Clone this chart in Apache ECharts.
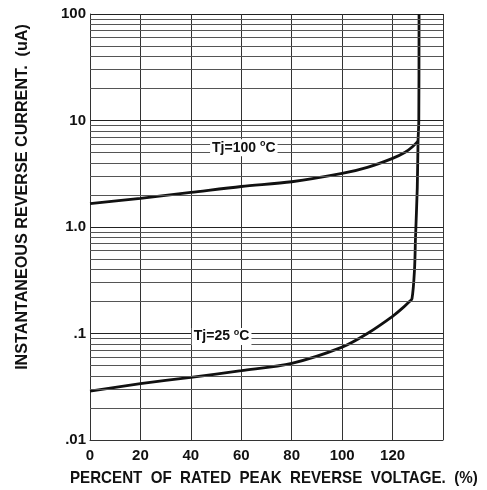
<!DOCTYPE html>
<html>
<head>
<meta charset="utf-8">
<script src="https://cdn.jsdelivr.net/npm/echarts@6/dist/echarts.min.js"></script>
<style>html,body{margin:0;padding:0;background:#fff}#c{width:487px;height:490px}</style>
</head>
<body>
<div id="c"></div>
<script>
// ---- data ----
var xTicks = [0, 20, 40, 60, 80, 100, 120];
var yTickValues = [0.01, 0.1, 1, 10, 100];
var yTickLabels = ['.01', '.1', '1.0', '10', '100'];
var tj100 = [[0,1.66],[20,1.86],[40,2.11],[60,2.40],[80,2.66],[100,3.18],[110,3.63],[120,4.41],[125,5.03],[128,5.7],[130.1,6.4]];
var tj25 = [[0,0.0288],[20,0.0338],[40,0.0388],[60,0.0448],[80,0.0525],[100,0.0745],[110,0.100],[120,0.145],[123.8,0.172],[126.5,0.198],[127.7,0.212],[128.7,0.398],[129.1,0.8],[129.8,2.35],[130.1,6.4],[130.4,10],[130.5,100]];
var minorGrid = [0.02,0.03,0.04,0.05,0.06,0.07,0.08,0.09,0.2,0.3,0.4,0.5,0.6,0.7,0.8,0.9,2,3,4,5,6,7,8,9,20,30,40,50,60,70,80,90];
var labels100 = 'Tj=100 ';
var labels25 = 'Tj=25 ';
var xTitle = 'PERCENT  OF  RATED  PEAK  REVERSE  VOLTAGE.  (%)';
var yTitle = 'INSTANTANEOUS REVERSE CURRENT.  (uA)';

var FONT = '"Liberation Sans", Arial, sans-serif';
var chart = echarts.init(document.getElementById('c'));
var rich = {
  a: {fontFamily: FONT, fontWeight: 'bold', fontSize: 14, color: '#111'},
  s: {fontFamily: FONT, fontWeight: 'bold', fontSize: 9, color: '#111', verticalAlign: 'top', padding: [0,0,8,0]}
};
chart.setOption({
  animation: false,
  grid: {left: 90, right: 44, top: 14, bottom: 50},
  xAxis: {
    type: 'value', min: 0, max: 140, interval: 20,
    axisLine: {show: true, lineStyle: {color: '#333', width: 1}},
    axisTick: {show: false},
    axisLabel: {margin: 8, fontFamily: FONT, fontWeight: 'bold', fontSize: 15, color: '#111',
      formatter: function (v) { return xTicks.indexOf(v) >= 0 ? String(v) : ''; }},
    splitLine: {show: true, lineStyle: {color: '#333', width: 1}}
  },
  yAxis: {
    type: 'log', logBase: 10, min: 0.01, max: 100,
    axisLine: {show: true, lineStyle: {color: '#333', width: 1}},
    axisTick: {show: false},
    axisLabel: {margin: 4, fontFamily: FONT, fontWeight: 'bold', fontSize: 15, color: '#111',
      formatter: function (v) {
        for (var i = 0; i < yTickValues.length; i++) {
          if (Math.abs(Math.log10(v) - Math.log10(yTickValues[i])) < 1e-6) return yTickLabels[i];
        }
        return '';
      }},
    splitLine: {show: true, lineStyle: {color: '#222', width: 1}}
  },
  graphic: [
    {type: 'text', x: 70, y: 478, scaleX: 0.89, style: {text: xTitle, font: 'bold 17px ' + FONT, fill: '#111', align: 'left', verticalAlign: 'middle'}},
    {type: 'text', x: 22, y: 197, rotation: Math.PI / 2, scaleX: 0.95, style: {text: yTitle, font: 'bold 17px ' + FONT, fill: '#111', align: 'center', verticalAlign: 'middle'}}
  ],
  series: [
    {
      type: 'line', data: [], symbol: 'none', silent: true,
      markLine: {silent: true, symbol: 'none', label: {show: false},
        lineStyle: {color: '#555', width: 1, type: 'solid'},
        data: minorGrid.map(function (v) { return {yAxis: v}; })}
    },
    {
      name: 'Tj=100', type: 'line', data: tj100, symbol: 'none', smooth: 0.3,
      lineStyle: {color: '#111', width: 2.8},
      markPoint: {symbol: 'rect', symbolSize: 0, data: [{coord: [61, 5.56]}],
        label: {show: true, position: 'inside', backgroundColor: '#fff', padding: [0, 2],
          formatter: '{a|' + labels100 + '}{s|o}{a|C}', rich: rich}}
    },
    {
      name: 'Tj=25', type: 'line', data: tj25, symbol: 'none', smooth: 0.3,
      lineStyle: {color: '#111', width: 2.8},
      markPoint: {symbol: 'rect', symbolSize: 0, data: [{coord: [52.2, 0.0936]}],
        label: {show: true, position: 'inside', backgroundColor: '#fff', padding: [0, 2],
          formatter: '{a|' + labels25 + '}{s|o}{a|C}', rich: rich}}
    }
  ]
});
</script>
</body>
</html>
